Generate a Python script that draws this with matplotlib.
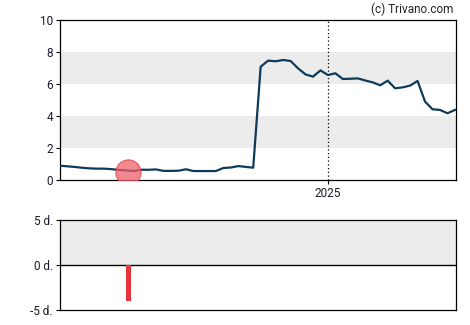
import pandas as pd
import matplotlib.pyplot as plt
import matplotlib.dates as mdates

plt.rcParams['font.family'] = ['Roboto', 'DejaVu Sans']

# weekly prices
first_date = '2024-04-24'
prices = [0.90, 0.86, 0.82, 0.77, 0.73, 0.71, 0.71, 0.68, 0.63, 0.60,
          0.56, 0.64, 0.64, 0.66, 0.57, 0.57, 0.58, 0.67, 0.56, 0.56,
          0.56, 0.56, 0.75, 0.78, 0.87, 0.82, 0.77, 7.08, 7.46, 7.42,
          7.50, 7.44, 6.98, 6.60, 6.46, 6.85, 6.56, 6.67, 6.31, 6.33,
          6.35, 6.22, 6.10, 5.92, 6.21, 5.73, 5.79, 5.90, 6.19, 4.90,
          4.42, 4.38, 4.17, 4.38]
dates = pd.date_range(first_date, periods=len(prices), freq='7D')

# event marker and day offset bar
event_date = pd.Timestamp('2024-06-28')
event_price = 0.48
event_days = -4

y_ticks = [0, 2, 4, 6, 8, 10]
bottom_ticks = [-5, 0, 5]
bottom_labels = ['-5 d.', '0 d.', '5 d.']

x_start = pd.Timestamp('2024-04-25')
x_end = pd.Timestamp('2025-05-01')
year_mark = pd.Timestamp('2025-01-01')

fig = plt.figure(figsize=(4.70, 3.25), dpi=100)
ax1 = fig.add_axes([60 / 470, 145 / 325, 396 / 470, 160 / 325])
ax2 = fig.add_axes([60 / 470, 15 / 325, 396 / 470, 90 / 325])

label_color = '#1a1a2e'

# top chart
for lo, hi in [(2, 4), (6, 8)]:
    ax1.axhspan(lo, hi, color='#ececec', zorder=0, lw=0)
ax1.axvline(year_mark, color='black', lw=0.9, ls=(0, (1, 2)), zorder=1)
ax1.plot(dates, prices, color='#0e3a5a', lw=1.6, zorder=3)
ax1.scatter([event_date], [event_price], s=330, color='#f0606a', alpha=0.75,
            edgecolors='#e03a46', linewidths=0.8, zorder=4)
ax1.set_xlim(x_start, x_end)
ax1.set_ylim(0, 10)
ax1.set_yticks(y_ticks)
ax1.set_xticks([year_mark])
ax1.xaxis.set_major_formatter(mdates.DateFormatter('%Y'))
ax1.tick_params(labelsize=8.5, length=3, width=0.8, colors='black',
                labelcolor=label_color, pad=2)
for sp in ax1.spines.values():
    sp.set_linewidth(0.9)

fig.text(453 / 470, 1 - 9 / 325, '(c) Trivano.com', ha='right', va='center',
         fontsize=8.5, color='#222222')

# bottom chart
ax2.axhspan(0, 5, color='#ececec', zorder=0, lw=0)
ax2.axhline(0, color='black', lw=1.0, zorder=2)
ax2.bar([event_date], [event_days], width=4.5, color='#e8323c', zorder=3)
ax2.set_xlim(x_start, x_end)
ax2.set_ylim(-5, 5)
ax2.set_yticks(bottom_ticks)
ax2.set_yticklabels(bottom_labels)
ax2.set_xticks([])
ax2.tick_params(labelsize=8.5, length=3, width=0.8, colors='black',
                labelcolor=label_color, pad=2)
for sp in ax2.spines.values():
    sp.set_linewidth(0.9)

fig.savefig('out.png', dpi=100)
